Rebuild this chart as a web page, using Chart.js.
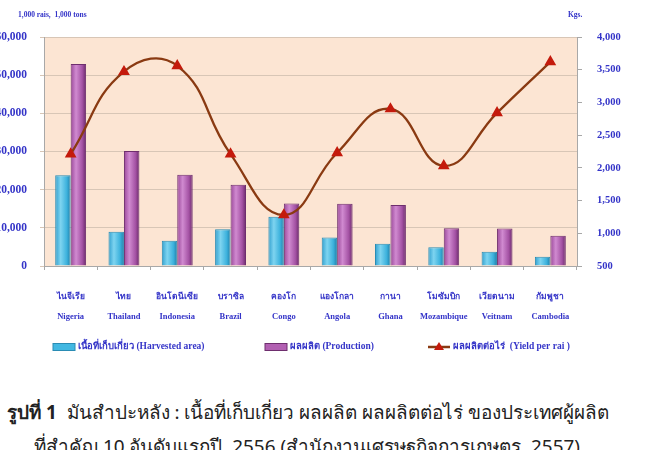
<!DOCTYPE html>
<html>
<head>
<meta charset="utf-8">
<script src="https://cdn.jsdelivr.net/npm/chart.js@4"></script>
<style>
  body { margin: 0; background: #fff; width: 650px; height: 450px; overflow: hidden; position: relative; }
  #wrap { position: absolute; left: -20px; top: 0; width: 670px; height: 362px; }
  #caption { position: absolute; left: 7px; top: 395px; font-family: "Noto Sans", "DejaVu Sans", sans-serif; font-size: 18.9px; color: #222; line-height: 34px; white-space: nowrap; }
  #caption b { font-weight: bold; }
  #caption .l2 { padding-left: 27px; }
</style>
</head>
<body>
<div id="wrap"><canvas id="cassavaChart" width="670" height="362"></canvas></div>
<div id="caption">
  <div><b>รูปที่ 1</b>&nbsp; มันสำปะหลัง : เนื้อที่เก็บเกี่ยว ผลผลิต ผลผลิตต่อไร่ ของประเทศผู้ผลิต</div>
  <div class="l2">ที่สำคัญ 10 อันดับแรกปี&nbsp; 2556 (สำนักงานเศรษฐกิจการเกษตร, 2557)</div>
</div>
<script>
// data
const countriesTh = ['ไนจีเรีย', 'ไทย', 'อินโดนีเซีย', 'บราซิล', 'คองโก', 'แองโกลา', 'กานา', 'โมซัมบิก', 'เวียดนาม', 'กัมพูชา'];
const countriesEn = ['Nigeria', 'Thailand', 'Indonesia', 'Brazil', 'Congo', 'Angola', 'Ghana', 'Mozambique', 'Veitnam', 'Cambodia'];
const harvestedArea = [23800, 9000, 6600, 9600, 12900, 7500, 5800, 4900, 3750, 2450];   // 1,000 rais
const production = [52900, 30100, 23900, 21300, 16400, 16300, 16000, 9900, 9800, 7900];  // 1,000 tons
const yieldPerRai = [2210, 3470, 3560, 2210, 1280, 2230, 2900, 2030, 2840, 3620];       // kgs
const seriesNames = ['เนื้อที่เก็บเกี่ยว (Harvested area)', 'ผลผลิต (Production)', 'ผลผลิตต่อไร่  (Yield per rai )'];

const blue = '#3434C8';
const serif = "'Liberation Serif', 'DejaVu Serif', serif";
const CAT_PCT = 0.58;

// cylinder-ish shading across each bar, side = -1 (left bar) or 1 (right bar)
function barShade(side, stops) {
    return (c) => {
        const chart = c.chart;
        const x = chart.scales.x;
        if (!x || c.dataIndex === undefined || !chart.data.labels.length) return stops[1];
        const catW = x.width / chart.data.labels.length;
        const bw = catW * CAT_PCT / 2;
        const cx = x.getPixelForValue(c.dataIndex) + side * bw / 2;
        if (!isFinite(cx) || !isFinite(bw) || bw <= 0) return stops[1];
        const g = chart.ctx.createLinearGradient(cx - bw / 2, 0, cx + bw / 2, 0);
        g.addColorStop(0, stops[0]);
        g.addColorStop(0.35, stops[1]);
        g.addColorStop(0.75, stops[2]);
        g.addColorStop(1, stops[3]);
        return g;
    };
}

// peach plot background + unit headers
const plotBg = {
    id: 'plotBg',
    beforeDraw(chart) {
        const { ctx, chartArea: a } = chart;
        ctx.save();
        ctx.fillStyle = '#FCE5D3';
        ctx.fillRect(a.left, a.top, a.right - a.left, a.bottom - a.top);
        ctx.fillStyle = blue;
        ctx.font = 'bold 7.5px ' + serif;
        ctx.textBaseline = 'middle';
        ctx.fillText('1,000 rais,  1,000 tons', 38, 15);
        ctx.fillText('Kgs.', 588, 15);
        ctx.restore();
    }
};

// legend laid out like the original (spread along the bottom)
const spreadLegend = {
    id: 'spreadLegend',
    afterDraw(chart) {
        const ctx = chart.ctx;
        const y = 347;
        const items = [
            { ds: 1, x: 73, fill: '#42B8E2', edge: '#2A8CB4' },
            { ds: 2, x: 285, fill: '#B260B2', edge: '#6E2E6E' },
            { ds: 0, x: 448 }
        ];
        ctx.save();
        ctx.font = 'bold 9.5px ' + serif;
        ctx.textBaseline = 'middle';
        items.forEach(it => {
            const ds = chart.data.datasets[it.ds];
            const x = it.x;
            if (ds.type === 'line') {
                ctx.strokeStyle = ds.borderColor;
                ctx.lineWidth = 2.5;
                ctx.beginPath();
                ctx.moveTo(x, y);
                ctx.lineTo(x + 22, y);
                ctx.stroke();
                ctx.fillStyle = ds.pointBackgroundColor;
                ctx.beginPath();
                ctx.moveTo(x + 11, y - 5);
                ctx.lineTo(x + 16, y + 3);
                ctx.lineTo(x + 6, y + 3);
                ctx.closePath();
                ctx.fill();
            } else {
                ctx.fillStyle = it.fill;
                ctx.fillRect(x, y - 3.5, 22, 7);
                ctx.strokeStyle = it.edge;
                ctx.lineWidth = 1;
                ctx.strokeRect(x, y - 3.5, 22, 7);
            }
            ctx.fillStyle = blue;
            ctx.fillText(ds.label, x + 25, y);
        });
        ctx.restore();
    }
};

const ctx = document.getElementById('cassavaChart').getContext('2d');
new Chart(ctx, {
    data: {
        labels: countriesTh.map((th, i) => [th, countriesEn[i]]),
        datasets: [
            {
                type: 'line',
                label: seriesNames[2],
                data: yieldPerRai,
                yAxisID: 'yRight',
                borderColor: '#8A3A12',
                borderWidth: 2.3,
                tension: 0.45,
                pointStyle: 'triangle',
                pointRadius: 4.5,
                pointBackgroundColor: '#C41A0C',
                pointBorderColor: '#C41A0C',
                order: 0
            },
            {
                type: 'bar',
                label: seriesNames[0],
                data: harvestedArea,
                yAxisID: 'yLeft',
                backgroundColor: barShade(-1, ['#2F9FCF', '#7ED4F0', '#3DB2DD', '#1F7EA8']),
                borderColor: '#2A8CB4',
                borderWidth: 1,
                categoryPercentage: CAT_PCT,
                barPercentage: 1.0,
                order: 1
            },
            {
                type: 'bar',
                label: seriesNames[1],
                data: production,
                yAxisID: 'yLeft',
                backgroundColor: barShade(1, ['#9A489A', '#D08AD0', '#A452A4', '#6A2A6A']),
                borderColor: '#6E2E6E',
                borderWidth: 1,
                categoryPercentage: CAT_PCT,
                barPercentage: 1.0,
                order: 1
            }
        ]
    },
    options: {
        responsive: false,
        animation: false,
        layout: { padding: { top: 37, bottom: 35, left: 0, right: 0 } },
        plugins: {
            legend: { display: false },
            tooltip: { enabled: false }
        },
        scales: {
            x: {
                offset: true,
                grid: { offset: true, drawOnChartArea: false, tickLength: 4, color: '#A8A8A8' },
                border: { color: '#A8A8A8' },
                ticks: {
                    color: blue,
                    padding: 17,
                    maxRotation: 0,
                    autoSkip: false,
                    font: { family: serif, size: 8.5, weight: 'bold', lineHeight: 2.3 }
                },
                afterFit(s) { s.height = 61; }
            },
            yLeft: {
                position: 'left',
                min: 0,
                max: 60000,
                ticks: {
                    stepSize: 10000,
                    color: blue,
                    padding: 13,
                    font: { family: serif, size: 11.5, weight: 'bold' },
                    callback: v => v.toLocaleString('en-US')
                },
                grid: { color: '#D8C6B6', lineWidth: 1, tickLength: 4 },
                border: { color: '#A8A8A8' },
                afterFit(s) { s.width = 64; }
            },
            yRight: {
                position: 'right',
                min: 500,
                max: 4000,
                ticks: {
                    stepSize: 500,
                    color: blue,
                    padding: 15,
                    font: { family: serif, size: 10.5, weight: 'bold' },
                    callback: v => v.toLocaleString('en-US')
                },
                grid: { drawOnChartArea: false, tickLength: 5, color: '#A8A8A8' },
                border: { color: '#A8A8A8' },
                afterFit(s) { s.width = 73; }
            }
        }
    },
    plugins: [plotBg, spreadLegend]
});
</script>
</body>
</html>
